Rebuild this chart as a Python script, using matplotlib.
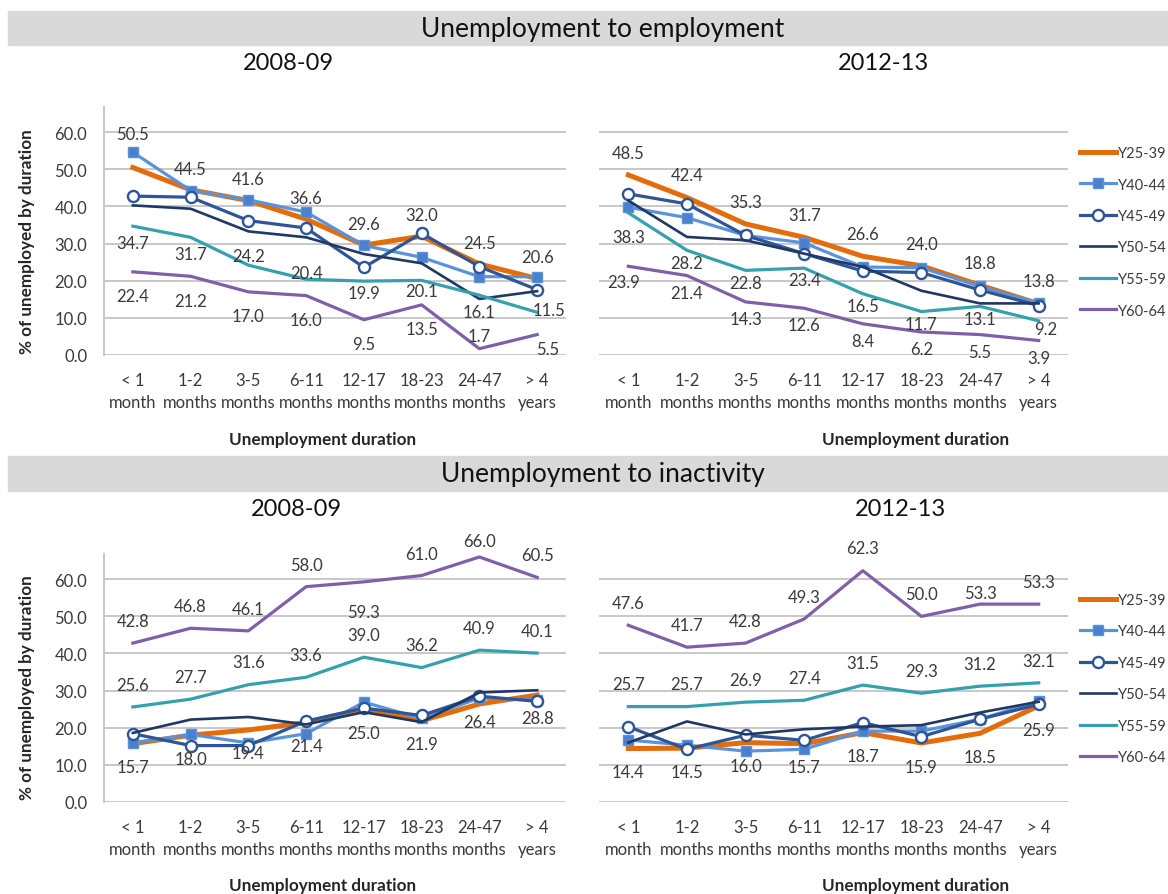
import matplotlib
matplotlib.use('Agg')
import matplotlib.pyplot as plt
from matplotlib.patches import Rectangle

plt.rcParams['font.family'] = ['Lato', 'DejaVu Sans']

durations = ['< 1\nmonth', '1-2\nmonths', '3-5\nmonths', '6-11\nmonths',
             '12-17\nmonths', '18-23\nmonths', '24-47\nmonths', '> 4\nyears']
age_groups = ['Y25-39', 'Y40-44', 'Y45-49', 'Y50-54', 'Y55-59', 'Y60-64']

# unemployment -> employment, 2008-09
emp_0809_y25_39 = [50.5, 44.5, 41.6, 36.6, 29.6, 32.0, 24.5, 20.6]
emp_0809_y40_44 = [54.6, 44.3, 41.8, 38.5, 29.5, 26.3, 21.1, 21.1]
emp_0809_y45_49 = [42.8, 42.5, 36.2, 34.2, 23.6, 32.8, 23.8, 17.6]
emp_0809_y50_54 = [40.3, 39.4, 33.3, 31.7, 27.2, 24.7, 15.1, 17.2]
emp_0809_y55_59 = [34.7, 31.7, 24.2, 20.4, 19.9, 20.1, 16.1, 11.5]
emp_0809_y60_64 = [22.4, 21.2, 17.0, 16.0, 9.5, 13.5, 1.7, 5.5]

# unemployment -> employment, 2012-13
emp_1213_y25_39 = [48.5, 42.4, 35.3, 31.7, 26.6, 24.0, 18.8, 13.8]
emp_1213_y40_44 = [39.8, 37.0, 32.2, 30.2, 23.7, 23.5, 18.5, 13.9]
emp_1213_y45_49 = [43.4, 40.7, 32.2, 27.3, 22.6, 22.2, 17.5, 13.3]
emp_1213_y50_54 = [41.6, 31.8, 30.9, 27.3, 23.7, 17.3, 13.9, 13.9]
emp_1213_y55_59 = [38.3, 28.2, 22.8, 23.4, 16.5, 11.7, 13.1, 9.2]
emp_1213_y60_64 = [23.9, 21.4, 14.3, 12.6, 8.4, 6.2, 5.5, 3.9]

# unemployment -> inactivity, 2008-09
ina_0809_y25_39 = [15.7, 18.0, 19.4, 21.4, 25.0, 21.9, 26.4, 28.8]
ina_0809_y40_44 = [15.9, 18.2, 15.9, 18.4, 26.9, 22.5, 28.0, 27.6]
ina_0809_y45_49 = [18.4, 15.2, 15.2, 21.8, 25.3, 23.3, 28.5, 27.1]
ina_0809_y50_54 = [18.6, 22.2, 22.9, 20.9, 24.2, 21.5, 29.5, 30.1]
ina_0809_y55_59 = [25.6, 27.7, 31.6, 33.6, 39.0, 36.2, 40.9, 40.1]
ina_0809_y60_64 = [42.8, 46.8, 46.1, 58.0, 59.3, 61.0, 66.0, 60.5]

# unemployment -> inactivity, 2012-13
ina_1213_y25_39 = [14.4, 14.5, 16.0, 15.7, 18.7, 15.9, 18.5, 25.9]
ina_1213_y40_44 = [16.7, 15.3, 13.7, 14.2, 19.1, 19.1, 22.3, 27.2]
ina_1213_y45_49 = [20.3, 14.2, 18.0, 16.6, 21.4, 17.6, 22.3, 26.3]
ina_1213_y50_54 = [16.0, 21.7, 18.2, 19.6, 20.3, 20.7, 24.1, 27.0]
ina_1213_y55_59 = [25.7, 25.7, 26.9, 27.4, 31.5, 29.3, 31.2, 32.1]
ina_1213_y60_64 = [47.6, 41.7, 42.8, 49.3, 62.3, 50.0, 53.3, 53.3]

styles = {
    'Y25-39': dict(color='#E46C0A', lw=3.6),
    'Y40-44': dict(color='#5B93DA', lw=2.3, marker='s', ms=7.5,
                   mfc='#4A80CC', mec='#5B93DA'),
    'Y45-49': dict(color='#2E5597', lw=2.3, marker='o', ms=8,
                   mfc='white', mec='#2E5597', mew=1.7),
    'Y50-54': dict(color='#1F3864', lw=1.9),
    'Y55-59': dict(color='#35A0AE', lw=2.3),
    'Y60-64': dict(color='#7F5FA8', lw=2.3),
}

label_color = '#3A3A3A'
grid_color = '#C8C8C8'
fs = 12

# label offsets (data units) per labelled series, plus a few per-point tweaks
panels = [
    dict(rect=[104, 108, 566, 356], left=True,
         series=[emp_0809_y25_39, emp_0809_y40_44, emp_0809_y45_49,
                 emp_0809_y50_54, emp_0809_y55_59, emp_0809_y60_64],
         dy={'Y25-39': 5.7, 'Y55-59': -4.5, 'Y60-64': -6.6},
         tweak={('Y25-39', 0): (0, 9.0), ('Y55-59', 2): (0, 2.5),
                ('Y55-59', 3): (0, 1.7), ('Y55-59', 4): (0, -3.2),
                ('Y55-59', 5): (0, -2.8), ('Y55-59', 7): (0.2, 0.6),
                ('Y60-64', 6): (0, 3.5), ('Y60-64', 7): (0.18, -3.9)}),
    dict(rect=[599, 108, 1068, 356], left=False,
         series=[emp_1213_y25_39, emp_1213_y40_44, emp_1213_y45_49,
                 emp_1213_y50_54, emp_1213_y55_59, emp_1213_y60_64],
         dy={'Y25-39': 6.0, 'Y55-59': -3.3, 'Y60-64': -4.6},
         tweak={('Y55-59', 0): (0, -6.5), ('Y55-59', 7): (0.12, -2.2),
                ('Y60-64', 0): (-0.08, -4.2)}),
    dict(rect=[104, 555, 566, 803], left=True,
         series=[ina_0809_y25_39, ina_0809_y40_44, ina_0809_y45_49,
                 ina_0809_y50_54, ina_0809_y55_59, ina_0809_y60_64],
         dy={'Y25-39': -6.3, 'Y55-59': 6.0, 'Y60-64': 5.9},
         tweak={('Y60-64', 4): (0, -8.0), ('Y60-64', 6): (0, 4.2),
                ('Y25-39', 6): (0, -4.9)}),
    dict(rect=[599, 555, 1068, 803], left=False,
         series=[ina_1213_y25_39, ina_1213_y40_44, ina_1213_y45_49,
                 ina_1213_y50_54, ina_1213_y55_59, ina_1213_y60_64],
         dy={'Y25-39': -6.4, 'Y55-59': 6.0, 'Y60-64': 6.0},
         tweak={('Y60-64', 6): (0, 2.9)}),
]

W, H = 1168, 895
fig = plt.figure(figsize=(W / 100, H / 100), dpi=100)


def fx(px):
    return px / W


def fy(py):
    return 1 - py / H


# section bands and titles
for top, bot, title in [(12, 46, 'Unemployment to employment'),
                        (457, 492, 'Unemployment to inactivity')]:
    fig.patches.append(Rectangle((fx(8), fy(bot)), fx(1160), (bot - top) / H,
                                 transform=fig.transFigure, color='#D9D9D9', zorder=0))
    fig.text(fx(603), fy((top + bot) / 2), title, ha='center', va='center',
             fontsize=19, color='#111111')

for x, y, t in [(288, 63, '2008-09'), (883, 63, '2012-13'),
                (296, 509, '2008-09'), (900, 509, '2012-13')]:
    fig.text(fx(x), fy(y), t, ha='center', va='center', fontsize=17, color='#111111')

for p in panels:
    x0, y0, x1, y1 = p['rect']
    ax = fig.add_axes([fx(x0), fy(y1), (x1 - x0) / W, (y1 - y0) / H])
    xs = range(len(durations))
    for name, vals in zip(age_groups, p['series']):
        ax.plot(xs, vals, label=name, zorder=3, clip_on=False, **styles[name])
        if name in p['dy']:
            for i, v in enumerate(vals):
                dx, dy = p['tweak'].get((name, i), (0, p['dy'][name]))
                ax.text(i + dx, v + dy, f'{v:.1f}', ha='center', va='center',
                        fontsize=fs, color=label_color, zorder=5)
    ax.set_xlim(-0.5, len(durations) - 0.5)
    ax.set_ylim(0, 66.8)
    for g in range(0, 70, 10):
        ax.axhline(g, color=grid_color, lw=1.4, zorder=1)
    for s in ax.spines.values():
        s.set_visible(False)
    ax.set_xticks(list(xs))
    ax.set_xticklabels(durations, fontsize=fs, color=label_color, linespacing=1.45)
    ax.tick_params(axis='x', length=0, pad=12)
    if p['left']:
        ax.spines['left'].set_visible(True)
        ax.spines['left'].set_color(grid_color)
        ax.spines['left'].set_linewidth(1.4)
        ax.set_yticks(range(0, 70, 10))
        ax.set_yticklabels([f'{v:.1f}' for v in range(0, 70, 10)],
                           fontsize=fs, color=label_color)
        ax.tick_params(axis='y', length=0, pad=12)
    else:
        ax.set_yticks([])
        ax.legend(loc='upper left', bbox_to_anchor=(fx(1080), fy(y0 + 39)),
                  bbox_transform=fig.transFigure, frameon=False, fontsize=10.5,
                  handlelength=2.5, handletextpad=0.1, labelspacing=1.2,
                  borderpad=0, borderaxespad=0, labelcolor=label_color)

for y in (242, 688):
    fig.text(fx(27), fy(y), '% of unemployed by duration', rotation=90,
             ha='center', va='center', fontsize=12.3, fontweight='bold', color='#262626')
for x, y in [(323, 440), (916, 440), (323, 886), (916, 886)]:
    fig.text(fx(x), fy(y), 'Unemployment duration', ha='center', va='center',
             fontsize=12.3, fontweight='bold', color='#262626')

fig.savefig('out.png', dpi=100)
